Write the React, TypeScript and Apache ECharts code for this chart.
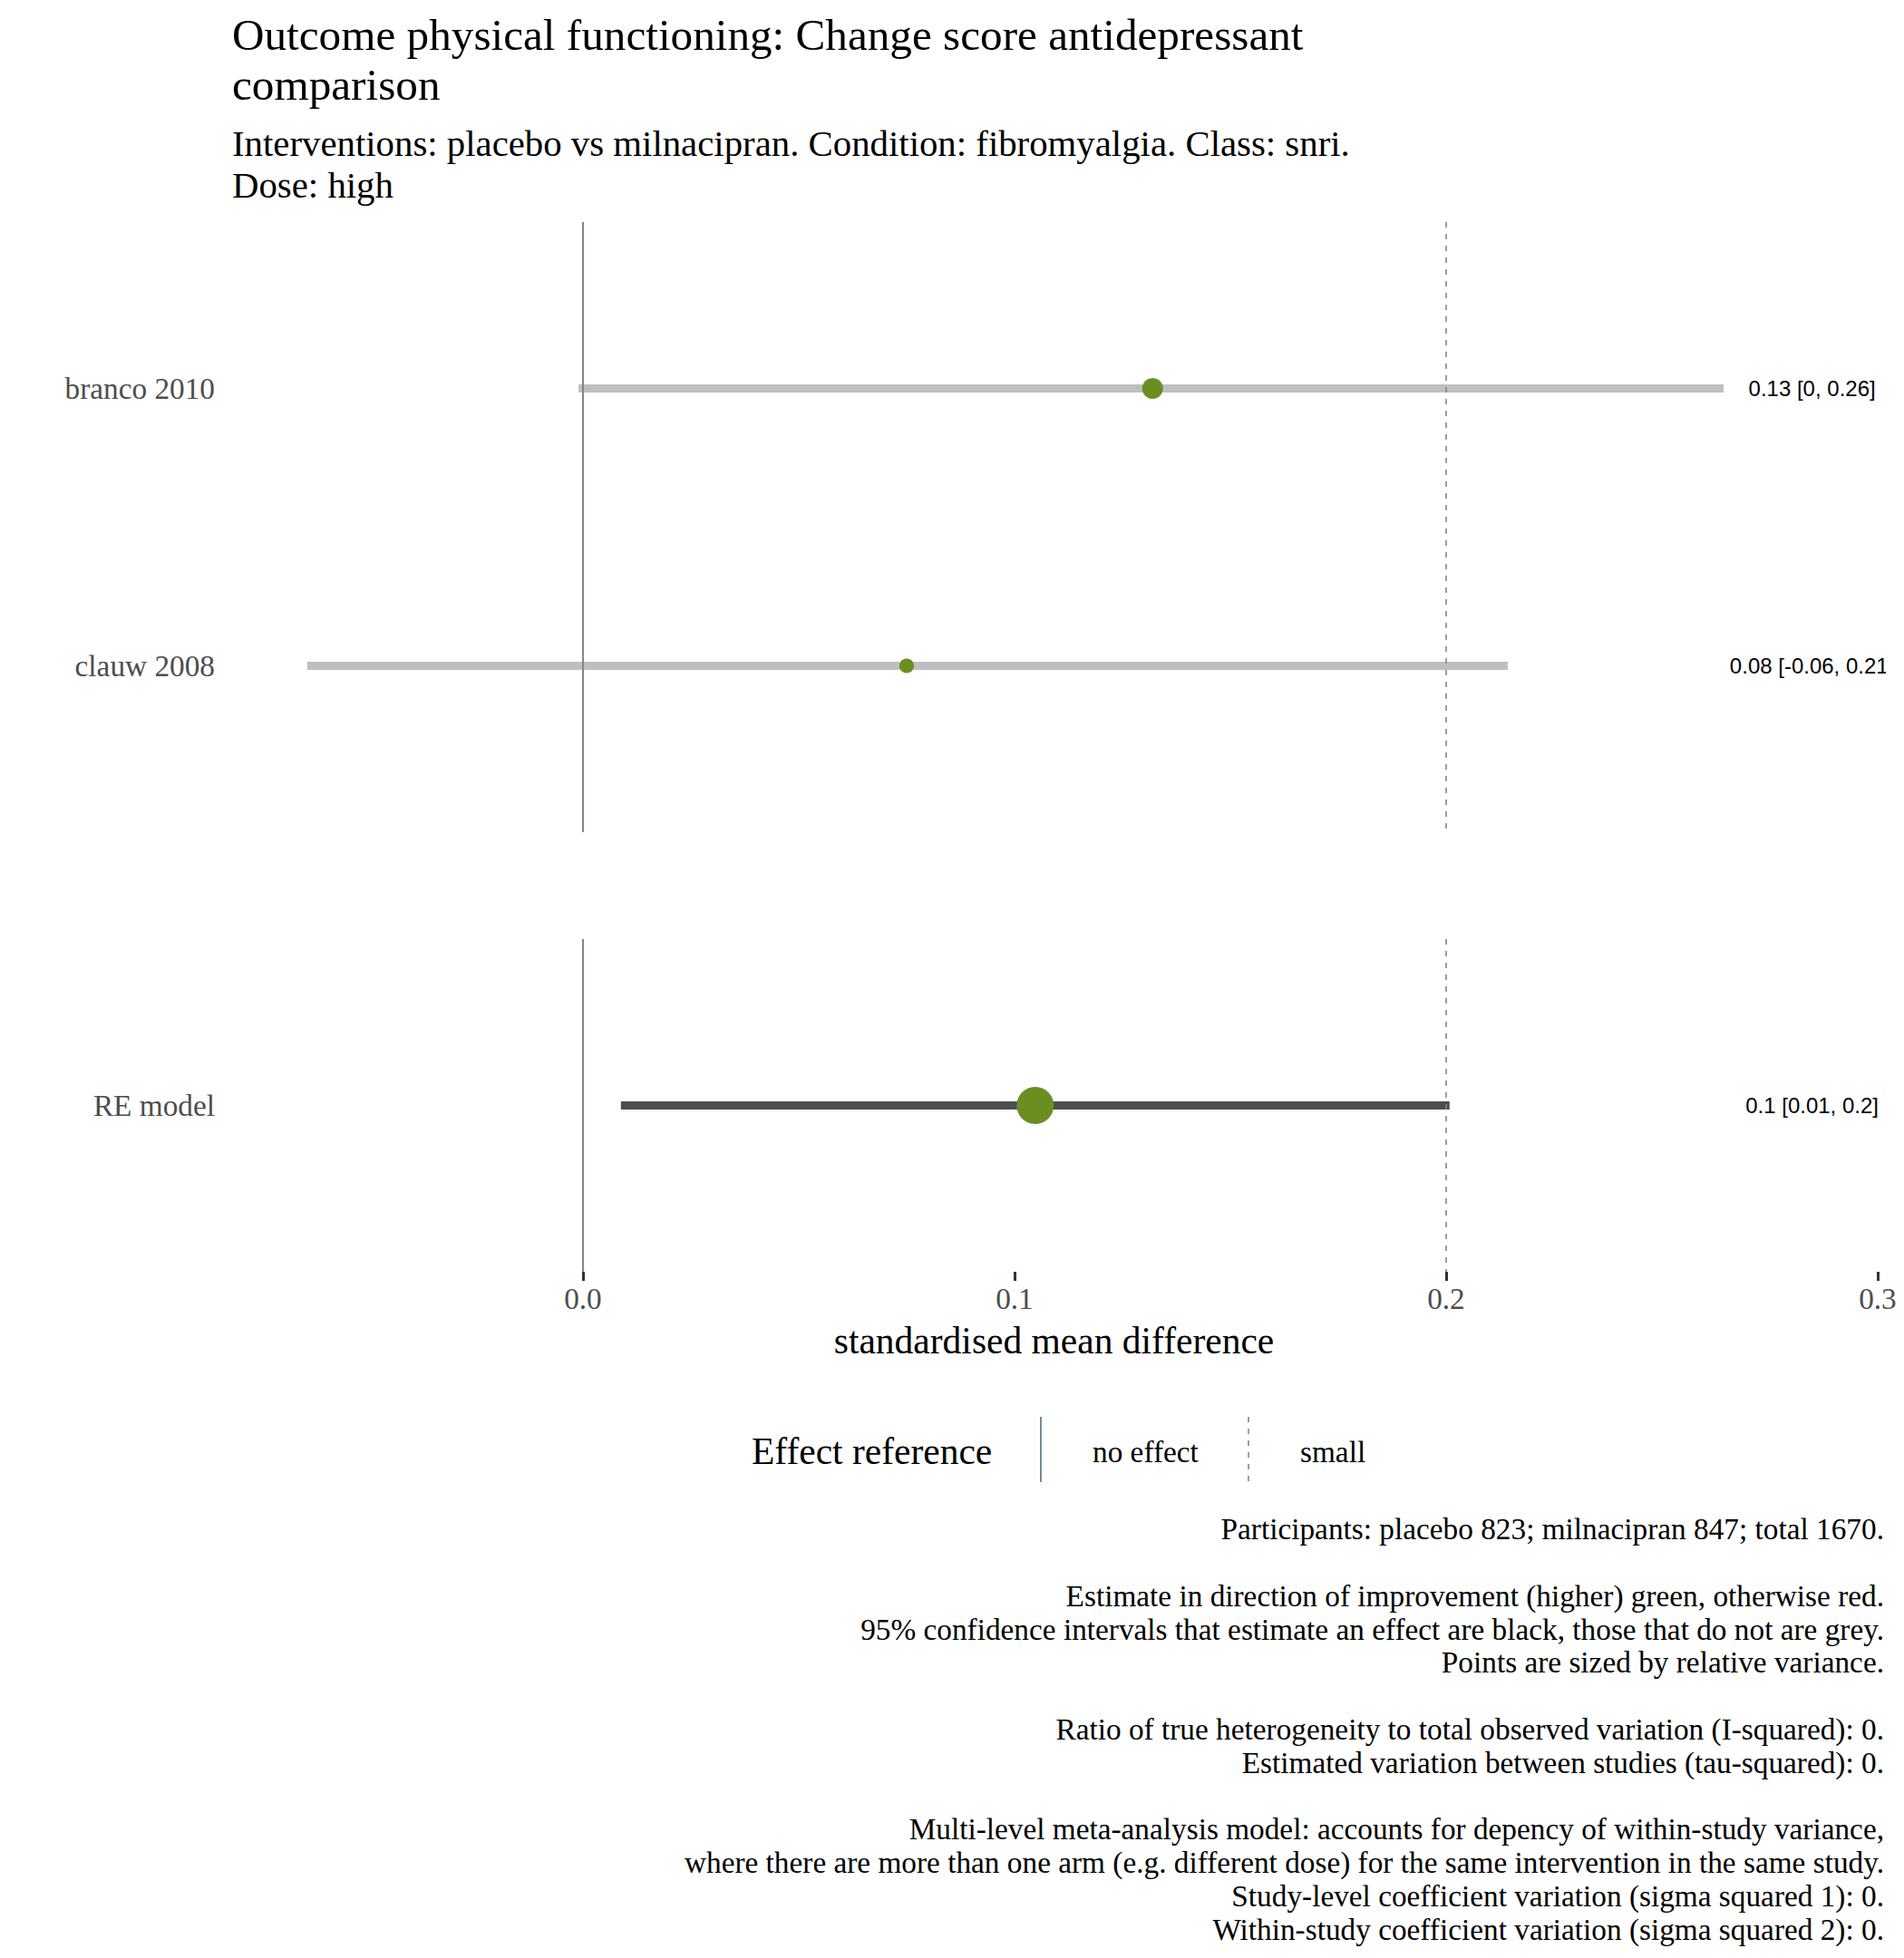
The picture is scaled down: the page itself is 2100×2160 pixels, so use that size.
import React, { useEffect, useRef } from "react";
import * as echarts from "echarts";

// ---------- data ----------
const studies = ["branco 2010", "clauw 2008"];
const studyEstimate = [0.132, 0.075];
const studyLower = [-0.001, -0.0639];
const studyUpper = [0.2643, 0.2143];
const studyLabels = ["0.13 [0, 0.26]", "0.08 [-0.06, 0.21]"];
const studyPointSize = [23, 16];

const pooled = ["RE model"];
const pooledEstimate = [0.1048];
const pooledLower = [0.0088];
const pooledUpper = [0.2008];
const pooledLabels = ["0.1 [0.01, 0.2]"];
const pooledPointSize = [41];

const xTicks = [0, 0.1, 0.2, 0.3];
const refNoEffect = 0;
const refSmall = 0.2;

const titleText = "Outcome physical functioning: Change score antidepressant\ncomparison";
const subtitleLines = [
  "Interventions: placebo vs milnacipran. Condition: fibromyalgia. Class: snri.",
  "Dose: high",
];
const captionLines = [
  "Participants: placebo 823; milnacipran 847; total 1670.",
  "",
  "Estimate in direction of improvement (higher) green, otherwise red.",
  "95% confidence intervals that estimate an effect are black, those that do not are grey.",
  "Points are sized by relative variance.",
  "",
  "Ratio of true heterogeneity to total observed variation (I-squared): 0.",
  "Estimated variation between studies (tau-squared): 0.",
  "",
  "Multi-level meta-analysis model: accounts for depency of within-study variance,",
  "where there are more than one arm (e.g. different dose) for the same intervention in the same study.",
  "Study-level coefficient variation (sigma squared 1): 0.",
  "Within-study coefficient variation (sigma squared 2): 0.",
];

// ---------- styles ----------
const SERIF = "Liberation Serif";
const SANS = "Liberation Sans";
const GREEN = "#6B8E23";
const RED = "#B22222";
const CI_GREY = "#BFBFBF";
const CI_DARK = "#4D4D4D";
const REF_COLOR = "#778899";
const X_MIN = -0.0836;
const X_MAX = 0.3019;
const LABEL_X = 0.2848;
const BASE = 41.5;
const SUB = 40.8;
const SMALL = 33.3;
const TITLE = 49.2;

function buildRows(lower: number[], upper: number[], est: number[]) {
  return est.map((e, i) => [lower[i], upper[i], i + 1, e]);
}

function ciSeries(xi: number, rows: number[][]) {
  return {
    type: "custom",
    xAxisIndex: xi,
    yAxisIndex: xi,
    z: 1,
    clip: false,
    encode: { x: [0, 1], y: 2 },
    data: rows,
    renderItem: (params: any, api: any) => {
      const lo = api.value(0);
      const hi = api.value(1);
      const y = api.value(2);
      const p1 = api.coord([lo, y]);
      const p2 = api.coord([hi, y]);
      const signif = lo > 0 || hi < 0;
      return {
        type: "line",
        shape: { x1: p1[0], y1: p1[1], x2: p2[0], y2: p2[1] },
        style: { stroke: signif ? CI_DARK : CI_GREY, lineWidth: 9, lineCap: "butt" },
      };
    },
    markLine: {
      silent: true,
      symbol: "none",
      label: { show: false },
      animation: false,
      z: 2,
      data: [
        { xAxis: refNoEffect, lineStyle: { color: REF_COLOR, width: 2, type: "solid" } },
        { xAxis: refSmall, lineStyle: { color: REF_COLOR, width: 1.6, type: [6, 7] } },
      ],
    },
  };
}

function pointSeries(xi: number, est: number[], sizes: number[]) {
  return {
    type: "scatter",
    xAxisIndex: xi,
    yAxisIndex: xi,
    z: 5,
    data: est.map((e, i) => ({
      value: [e, i + 1],
      symbolSize: sizes[i],
      itemStyle: { color: e > 0 ? GREEN : RED, opacity: 1 },
    })),
  };
}

function labelSeries(xi: number, labels: string[]) {
  return {
    type: "custom",
    xAxisIndex: xi,
    yAxisIndex: xi,
    z: 6,
    clip: true,
    encode: { x: 0, y: 1 },
    data: labels.map((_, i) => [LABEL_X, i + 1]),
    renderItem: (params: any, api: any) => {
      const p = api.coord([api.value(0), api.value(1)]);
      return {
        type: "text",
        x: p[0],
        y: p[1],
        style: {
          text: labels[params.dataIndex],
          fill: "#000000",
          font: `24px "${SANS}"`,
          align: "center",
          verticalAlign: "middle",
        },
      };
    },
  };
}

export default function App() {
  const ref = useRef<HTMLDivElement>(null);
  useEffect(() => {
    document.body.style.margin = "0";
    const chart = echarts.init(ref.current!, null, { renderer: "svg" });
    const gridLeft = 245;
    const gridRight = 2100 - 2080;
    const captionTop = 1686.7;
    const captionStep = 36.8;
    const captionGraphics = captionLines
      .map((line, i) =>
        line
          ? {
              type: "text",
              x: 2078,
              y: captionTop + i * captionStep,
              style: {
                text: line,
                font: `${SMALL}px "${SERIF}"`,
                fill: "#000000",
                align: "right",
                verticalAlign: "middle",
              },
            }
          : null
      )
      .filter(Boolean);
    const subtitleCenters = [158, 204];
    const subtitleGraphics = subtitleLines.map((line, i) => ({
      type: "text",
      x: 256,
      y: subtitleCenters[i],
      style: {
        text: line,
        font: `${SUB}px "${SERIF}"`,
        fill: "#000000",
        verticalAlign: "middle",
      },
    }));
    const option: any = {
      animation: false,
      backgroundColor: "#ffffff",
      title: {
        text: titleText,
        left: 256,
        top: 11,
        padding: 0,
        textStyle: {
          fontFamily: SERIF,
          fontSize: TITLE,
          lineHeight: 55,
          fontWeight: "normal",
          color: "#000000",
        },
      },
      grid: [
        { left: gridLeft, right: gridRight, top: 245, height: 673 },
        { left: gridLeft, right: gridRight, top: 1036, height: 367 },
      ],
      xAxis: [
        {
          gridIndex: 0,
          type: "value",
          min: X_MIN,
          max: X_MAX,
          show: false,
        },
        {
          gridIndex: 1,
          type: "value",
          min: X_MIN,
          max: X_MAX,
          axisLine: { show: false },
          splitLine: { show: false },
          axisTick: {
            show: true,
            customValues: xTicks,
            length: 10,
            lineStyle: { color: "#333333", width: 3 },
          },
          axisLabel: {
            customValues: xTicks,
            formatter: (v: number) => v.toFixed(1),
            margin: 13,
            fontFamily: SERIF,
            fontSize: SMALL,
            color: "#4D4D4D",
          },
          name: "standardised mean difference",
          nameLocation: "middle",
          nameGap: 55,
          nameTextStyle: { fontFamily: SERIF, fontSize: BASE, color: "#000000" },
        },
      ],
      yAxis: [
        {
          gridIndex: 0,
          type: "value",
          min: 0.4,
          max: 2.6,
          inverse: true,
          axisLine: { show: false },
          axisTick: { show: false },
          splitLine: { show: false },
          axisLabel: {
            customValues: studies.map((_, i) => i + 1),
            formatter: (v: number) => studies[Math.round(v) - 1] ?? "",
            margin: 8,
            fontFamily: SERIF,
            fontSize: SMALL,
            color: "#4D4D4D",
          },
        },
        {
          gridIndex: 1,
          type: "value",
          min: 0.4,
          max: 1.6,
          inverse: true,
          axisLine: { show: false },
          axisTick: { show: false },
          splitLine: { show: false },
          axisLabel: {
            customValues: pooled.map((_, i) => i + 1),
            formatter: (v: number) => pooled[Math.round(v) - 1] ?? "",
            margin: 8,
            fontFamily: SERIF,
            fontSize: SMALL,
            color: "#4D4D4D",
          },
        },
      ],
      series: [
        ciSeries(0, buildRows(studyLower, studyUpper, studyEstimate)),
        pointSeries(0, studyEstimate, studyPointSize),
        labelSeries(0, studyLabels),
        ciSeries(1, buildRows(pooledLower, pooledUpper, pooledEstimate)),
        pointSeries(1, pooledEstimate, pooledPointSize),
        labelSeries(1, pooledLabels),
      ],
      graphic: [
        ...subtitleGraphics,
        {
          type: "text",
          x: 829,
          y: 1601,
          style: {
            text: "Effect reference",
            font: `${BASE}px "${SERIF}"`,
            fill: "#000000",
            verticalAlign: "middle",
          },
        },
        {
          type: "line",
          shape: { x1: 1148, y1: 1563, x2: 1148, y2: 1635 },
          style: { stroke: REF_COLOR, lineWidth: 2 },
        },
        {
          type: "text",
          x: 1205,
          y: 1601,
          style: {
            text: "no effect",
            font: `${SMALL}px "${SERIF}"`,
            fill: "#000000",
            verticalAlign: "middle",
          },
        },
        {
          type: "line",
          shape: { x1: 1377, y1: 1563, x2: 1377, y2: 1635 },
          style: { stroke: REF_COLOR, lineWidth: 1.6, lineDash: [6, 7] },
        },
        {
          type: "text",
          x: 1434,
          y: 1601,
          style: {
            text: "small",
            font: `${SMALL}px "${SERIF}"`,
            fill: "#000000",
            verticalAlign: "middle",
          },
        },
        ...captionGraphics,
      ],
    };
    chart.setOption(option);
    return () => chart.dispose();
  }, []);
  return (
    <div
      ref={ref}
      style={{ position: "absolute", left: 0, top: 0, width: 2100, height: 2160 }}
    />
  );
}
